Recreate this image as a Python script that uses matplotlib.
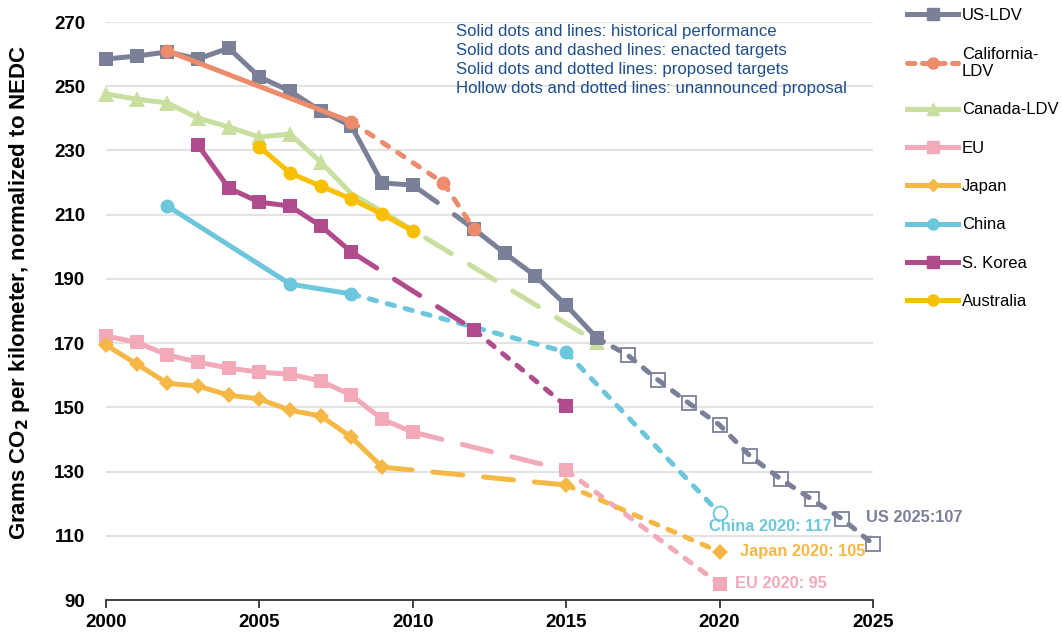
import matplotlib.pyplot as plt
from matplotlib.lines import Line2D

plt.rcParams['font.family'] = ['Liberation Sans', 'DejaVu Sans']

# ---- data ----
us_years = list(range(2000, 2026))
us_vals = [258.5, 259.4, 260.7, 258.5, 261.9, 252.9, 248.5, 242.3, 237.6, 219.9, 219.2,
           212.5, 205.5, 198.0, 190.9, 181.8, 171.6,
           166.3, 158.5, 151.3, 144.5, 134.8, 127.6, 121.4, 115.2, 107.5]

ca_years = [2002, 2008, 2011, 2012]
ca_vals = [261.0, 238.9, 219.9, 205.5]

cn_years = list(range(2000, 2010)) + [2016]
cn_vals = [247.6, 246.0, 244.8, 240.1, 237.3, 234.2, 235.1, 226.4, 216.5, 211.0, 170.3]

eu_years = list(range(2000, 2011)) + [2015, 2020]
eu_vals = [172.2, 170.3, 166.3, 164.1, 162.2, 161.0, 160.3, 158.2, 153.8, 146.3, 142.3, 130.4, 95]

jp_years = list(range(2000, 2010)) + [2015, 2020]
jp_vals = [169.4, 163.5, 157.5, 156.6, 153.8, 152.6, 149.1, 147.3, 140.7, 131.4, 125.8, 105]

ch_years = [2002, 2006, 2008, 2015, 2020]
ch_vals = [212.7, 188.4, 185.3, 167.2, 117]

kr_years = [2003, 2004, 2005, 2006, 2007, 2008, 2012, 2015]
kr_vals = [231.7, 218.3, 213.9, 212.7, 206.5, 198.4, 174.1, 150.4]

au_years = [2005, 2006, 2007, 2008, 2009, 2010]
au_vals = [231.1, 223.0, 218.9, 214.9, 210.2, 204.9]

C_US = '#7b8099'
C_CA = '#ec8c6c'
C_CN = '#c8df9f'
C_EU = '#f2a9b8'
C_JP = '#f5b846'
C_CH = '#6cc7dc'
C_KR = '#b04c8c'
C_AU = '#f7c000'

LW = 3.6
SOLID = '-'
LONG = (0, (6.0, 4.2))
SHORT = (0, (1.5, 2.2))


def seg(ax, xs, ys, i0, i1, color, ls, z):
    ax.plot(xs[i0:i1 + 1], ys[i0:i1 + 1], color=color, lw=LW, ls=ls,
            dash_capstyle='round', solid_capstyle='round', zorder=z, clip_on=False)


def marks(ax, xs, ys, color, marker, ms, z, hollow=False, face=None):
    if hollow:
        ax.plot(xs, ys, ls='none', marker=marker, ms=ms, mfc=face, mec=color,
                mew=1.3, zorder=z + 0.5, clip_on=False)
    else:
        ax.plot(xs, ys, ls='none', marker=marker, ms=ms, mfc=color, mec=color,
                mew=0, zorder=z + 0.5, clip_on=False)


fig = plt.figure(figsize=(10.62, 6.35), dpi=100)
ax = fig.add_axes([0.0998, 0.0551, 0.7222, 0.9102])

# Canada
seg(ax, cn_years, cn_vals, 0, 9, C_CN, SOLID, 2)
seg(ax, cn_years, cn_vals, 9, 10, C_CN, LONG, 2)
marks(ax, cn_years[:8] + [cn_years[10]], cn_vals[:8] + [cn_vals[10]], C_CN, '^', 11, 2)

# US
seg(ax, us_years, us_vals, 0, 10, C_US, SOLID, 3)
seg(ax, us_years, us_vals, 10, 12, C_US, LONG, 3)
seg(ax, us_years, us_vals, 12, 16, C_US, SOLID, 3)
seg(ax, us_years, us_vals, 16, 25, C_US, SHORT, 3)
marks(ax, us_years[:11] + us_years[12:17], us_vals[:11] + us_vals[12:17], C_US, 's', 10, 3)
marks(ax, us_years[17:], us_vals[17:], C_US, 's', 9.5, 3, hollow=True, face='none')

# California
seg(ax, ca_years, ca_vals, 0, 1, C_CA, SOLID, 4)
seg(ax, ca_years, ca_vals, 1, 3, C_CA, SHORT, 4)
marks(ax, ca_years, ca_vals, C_CA, 'o', 10, 4)

# EU
seg(ax, eu_years, eu_vals, 0, 10, C_EU, SOLID, 2)
seg(ax, eu_years, eu_vals, 10, 11, C_EU, LONG, 2)
seg(ax, eu_years, eu_vals, 11, 12, C_EU, SHORT, 2)
marks(ax, eu_years, eu_vals, C_EU, 's', 10, 2)

# Japan
seg(ax, jp_years, jp_vals, 0, 9, C_JP, SOLID, 3)
seg(ax, jp_years, jp_vals, 9, 10, C_JP, LONG, 3)
seg(ax, jp_years, jp_vals, 10, 11, C_JP, SHORT, 3)
marks(ax, jp_years, jp_vals, C_JP, 'D', 8.5, 3)

# China
seg(ax, ch_years, ch_vals, 0, 2, C_CH, SOLID, 3)
seg(ax, ch_years, ch_vals, 2, 4, C_CH, SHORT, 3)
marks(ax, ch_years[:4], ch_vals[:4], C_CH, 'o', 10, 3)
marks(ax, ch_years[4:], ch_vals[4:], C_CH, 'o', 10, 3, hollow=True, face='white')

# S. Korea
seg(ax, kr_years, kr_vals, 0, 5, C_KR, SOLID, 3)
seg(ax, kr_years, kr_vals, 5, 6, C_KR, LONG, 3)
seg(ax, kr_years, kr_vals, 6, 7, C_KR, SHORT, 3)
marks(ax, kr_years, kr_vals, C_KR, 's', 10, 3)

# Australia
seg(ax, au_years, au_vals, 0, 5, C_AU, SOLID, 5)
marks(ax, au_years, au_vals, C_AU, 'o', 10, 5)

# axes styling
ax.set_xlim(2000, 2025)
ax.set_ylim(90, 270)
ax.set_yticks(range(90, 271, 20))
ax.set_xticks(range(2000, 2026, 5))
for s in ['top', 'right', 'left']:
    ax.spines[s].set_visible(False)
ax.spines['bottom'].set_color('#333333')
ax.spines['bottom'].set_linewidth(1.3)
ax.yaxis.grid(True, color='#e3e3e3', lw=1.5, zorder=0)
ax.set_axisbelow(True)
ax.tick_params(axis='y', length=0, pad=15, labelsize=13.5)
ax.tick_params(axis='x', length=6, width=1.3, color='#333333', pad=4, labelsize=13.5)
for lab in ax.get_xticklabels() + ax.get_yticklabels():
    lab.set_fontweight('bold')
ax.set_ylabel('Grams CO$_\\mathbf{2}$ per kilometer, normalized to NEDC',
              fontsize=16, fontweight='bold')
ax.yaxis.set_label_coords(-0.0965, 0.532)

# notes
ax.text(0.456, 0.997,
        'Solid dots and lines: historical performance\n'
        'Solid dots and dashed lines: enacted targets\n'
        'Solid dots and dotted lines: proposed targets\n'
        'Hollow dots and dotted lines: unannounced proposal',
        transform=ax.transAxes, ha='left', va='top', fontsize=12.1,
        color='#1f4e8c', linespacing=1.33)

ax.text(2019.65, 112.8, 'China 2020: 117', color=C_CH, fontsize=11.8,
        fontweight='bold', ha='left', va='center', zorder=6)
ax.text(2020.65, 105.0, 'Japan 2020: 105', color=C_JP, fontsize=11.8,
        fontweight='bold', ha='left', va='center', zorder=6)
ax.text(2020.5, 95.0, 'EU 2020: 95', color=C_EU, fontsize=11.8,
        fontweight='bold', ha='left', va='center', zorder=6)
ax.text(2024.77, 115.6, 'US 2025:107', color=C_US, fontsize=11.8,
        fontweight='bold', ha='left', va='center', zorder=6)

# legend
handles = [
    Line2D([], [], color=C_US, lw=LW, marker='s', ms=8, ls=SOLID),
    Line2D([], [], color=C_CA, lw=LW, marker='o', ms=8, ls=(0, (1.5, 1.5)),
           dash_capstyle='round'),
    Line2D([], [], color=C_CN, lw=LW, marker='^', ms=8, ls=SOLID),
    Line2D([], [], color=C_EU, lw=LW, marker='s', ms=8, ls=SOLID),
    Line2D([], [], color=C_JP, lw=LW, marker='D', ms=6, ls=SOLID),
    Line2D([], [], color=C_CH, lw=LW, marker='o', ms=8, ls=SOLID),
    Line2D([], [], color=C_KR, lw=LW, marker='s', ms=8, ls=SOLID),
    Line2D([], [], color=C_AU, lw=LW, marker='o', ms=8, ls=SOLID),
]
labels = ['US-LDV', 'California-\nLDV', 'Canada-LDV', 'EU', 'Japan', 'China',
          'S. Korea', 'Australia']
fig.legend(handles, labels, loc='upper left', bbox_to_anchor=(0.846, 1.0),
           frameon=False, fontsize=12, handlelength=3.1, handletextpad=0.2,
           labelspacing=1.4, borderaxespad=0.1)

fig.savefig('out.png', dpi=100)
